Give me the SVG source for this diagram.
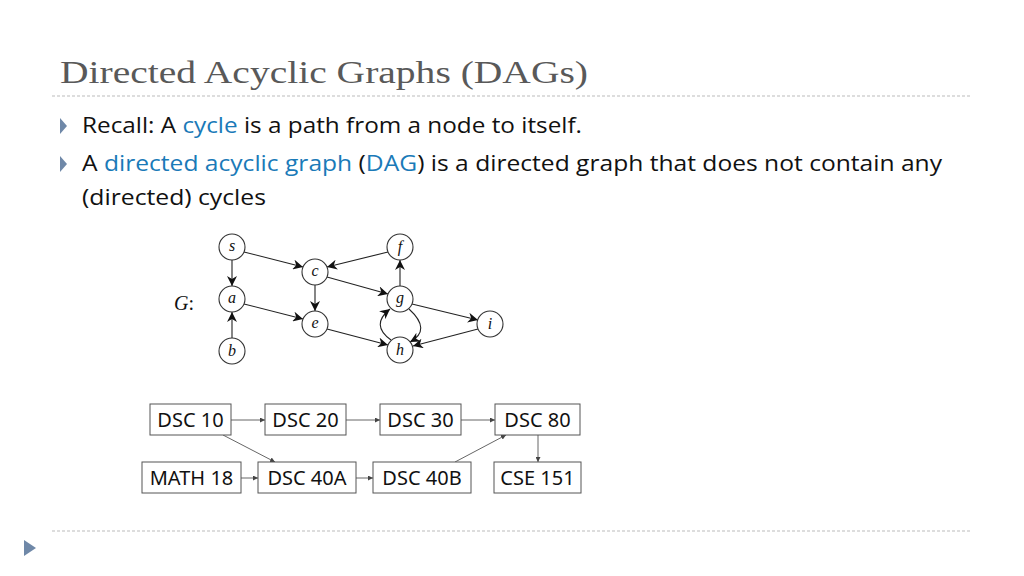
<svg xmlns="http://www.w3.org/2000/svg" width="1024" height="576" viewBox="0 0 1024 576">
<style>
.t{font-family:"Open Sans","Noto Sans",sans-serif;font-size:21px;fill:#111}
.b{fill:#1a7ab8}
.n{fill:#fff;stroke:#333;stroke-width:1.1}
.l{font-family:"Liberation Serif",serif;font-style:italic;font-size:16px;text-anchor:middle;fill:#111}
.e{stroke:#222;stroke-width:1.1;fill:none;marker-end:url(#ah)}
.bx{fill:#fff;stroke:#555;stroke-width:1}
.bt{font-family:"Noto Sans","Open Sans",sans-serif;font-size:20px;text-anchor:middle;fill:#111}
.c{stroke:#555;stroke-width:0.9;fill:none;marker-end:url(#sa)}
</style>
<defs>
<marker id="ah" viewBox="0 0 10 10" refX="10" refY="5" markerWidth="10" markerHeight="10" markerUnits="userSpaceOnUse" orient="auto"><path d="M0,0 L10,5 L0,10 L3,5z" fill="#111"/></marker>
<marker id="sa" viewBox="0 0 10 10" refX="10" refY="5" markerWidth="5" markerHeight="5" markerUnits="userSpaceOnUse" orient="auto"><path d="M0,0 L10,5 L0,10z" fill="#444"/></marker>
</defs>
<rect width="1024" height="576" fill="#fff"/>
<text x="60" y="83" font-family="Liberation Serif,serif" font-size="32" fill="#595959" textLength="528" lengthAdjust="spacingAndGlyphs">Directed Acyclic Graphs (DAGs)</text>
<line x1="52" y1="96" x2="972" y2="96" stroke="#bbb" stroke-dasharray="3,2"/>
<path d="M60,118 L67,126 L60,134z" fill="#6f88a8"/>
<path d="M60,156 L67,164 L60,172z" fill="#6f88a8"/>
<text class="t" x="82" y="133" textLength="500" lengthAdjust="spacingAndGlyphs">Recall: A <tspan class="b">cycle</tspan> is a path from a node to itself.</text>
<text class="t" x="82" y="171" textLength="860" lengthAdjust="spacingAndGlyphs">A <tspan class="b">directed acyclic graph</tspan> (<tspan class="b">DAG</tspan>) is a directed graph that does not contain any</text>
<text class="t" x="82" y="205" textLength="184" lengthAdjust="spacingAndGlyphs">(directed) cycles</text>
<text x="174" y="310" font-family="Liberation Serif,serif" font-style="italic" font-size="20" fill="#111">G<tspan font-style="normal">:</tspan></text>
<g id="edges">
<path class="e" d="M232,260 V286"/>
<path class="e" d="M232,338 V312"/>
<path class="e" d="M244,252 L303,267"/>
<path class="e" d="M388,252 L327,267"/>
<path class="e" d="M315,285 V311"/>
<path class="e" d="M327,277 L388,294"/>
<path class="e" d="M244,304 L303,319"/>
<path class="e" d="M327,329 L388,345"/>
<path class="e" d="M400,286 V260"/>
<path class="e" d="M412,304 L478,320"/>
<path class="e" d="M478,329 L413,346"/>
<path class="e" d="M409,309 Q432,330 410,342"/>
<path class="e" d="M391,340 Q370,325 390,309"/>
</g>
<g id="s"><circle class="n" cx="232" cy="247" r="13"/><text class="l" x="232" y="251">s</text></g>
<g id="c"><circle class="n" cx="315" cy="272" r="13"/><text class="l" x="315" y="276">c</text></g>
<g id="f"><circle class="n" cx="400" cy="247" r="13"/><text class="l" x="400" y="252">f</text></g>
<g id="a"><circle class="n" cx="232" cy="299" r="13"/><text class="l" x="232" y="303">a</text></g>
<g id="e"><circle class="n" cx="315" cy="324" r="13"/><text class="l" x="315" y="328">e</text></g>
<g id="g"><circle class="n" cx="400" cy="299" r="13"/><text class="l" x="400" y="303">g</text></g>
<g id="i"><circle class="n" cx="490" cy="324" r="13"/><text class="l" x="490" y="329">i</text></g>
<g id="b"><circle class="n" cx="232" cy="351" r="13"/><text class="l" x="232" y="356">b</text></g>
<g id="h"><circle class="n" cx="400" cy="350" r="13"/><text class="l" x="400" y="355">h</text></g>
<g id="connectors">
<path class="c" d="M231,420 H265"/>
<path class="c" d="M346,420 H380"/>
<path class="c" d="M461,420 H495"/>
<path class="c" d="M223,435 L275,462"/>
<path class="c" d="M241,478 H258"/>
<path class="c" d="M356,478 H373"/>
<path class="c" d="M455,462 L506,435"/>
<path class="c" d="M538,435 V462"/>
</g>
<g id="dsc10"><rect class="bx" x="150" y="404" width="81" height="31"/><text class="bt" x="190.5" y="427">DSC 10</text></g>
<g id="dsc20"><rect class="bx" x="265" y="404" width="81" height="31"/><text class="bt" x="305.5" y="427">DSC 20</text></g>
<g id="dsc30"><rect class="bx" x="380" y="404" width="81" height="31"/><text class="bt" x="420.5" y="427">DSC 30</text></g>
<g id="dsc80"><rect class="bx" x="495" y="404" width="85" height="31"/><text class="bt" x="537.5" y="427">DSC 80</text></g>
<g id="math18"><rect class="bx" x="142" y="462" width="99" height="31"/><text class="bt" x="191.5" y="485">MATH 18</text></g>
<g id="dsc40a"><rect class="bx" x="258" y="462" width="98" height="31"/><text class="bt" x="307" y="485">DSC 40A</text></g>
<g id="dsc40b"><rect class="bx" x="373" y="462" width="98" height="31"/><text class="bt" x="422" y="485">DSC 40B</text></g>
<g id="cse151"><rect class="bx" x="494" y="462" width="87" height="31"/><text class="bt" x="537.5" y="485">CSE 151</text></g>
<line x1="52" y1="531" x2="972" y2="531" stroke="#bbb" stroke-dasharray="3,2"/>
<path d="M24,540 L36,548 L24,556z" fill="#6f88a8"/>
</svg>
